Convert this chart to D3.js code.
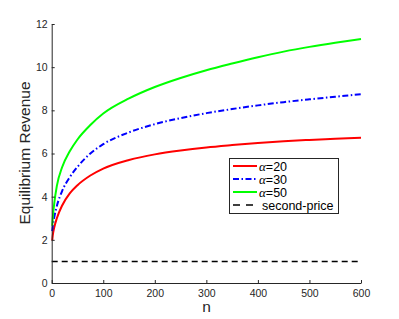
<!DOCTYPE html>
<html><head><meta charset="utf-8">
<script src="https://cdn.jsdelivr.net/npm/d3@7"></script>
<style>body{margin:0;background:#fff}svg{display:block}</style>
</head><body>
<svg id="c" width="399" height="319"></svg>
<script>
const nValues = [1,2,5,10,20,35,50,75,100,150,200,250,300,350,400,450,500,550,600];
const alpha20 = [1.97,2.2,2.58,3.0,3.58,4.15,4.53,4.98,5.3,5.7,5.96,6.14,6.28,6.39,6.49,6.57,6.63,6.68,6.73];
const alpha30 = [2.4,2.62,3.05,3.57,4.25,4.9,5.38,6.0,6.43,6.98,7.36,7.64,7.87,8.06,8.23,8.38,8.51,8.63,8.75];
const alpha50 = [2.65,3.0,3.7,4.5,5.35,6.1,6.65,7.32,7.85,8.55,9.08,9.5,9.86,10.17,10.46,10.72,10.94,11.13,11.3];
const secondPriceN = [0,600];
const secondPrice = [1,1];
const xTicks = [0,100,200,300,400,500,600];
const yTicks = [0,2,4,6,8,10,12];
const seriesNames = ["=20","=30","=50"];

const svg = d3.select("#c");
const x = d3.scaleLinear().domain([0,600]).range([51.7,361]);
const y = d3.scaleLinear().domain([0,12]).range([283,24]);
const axisColor = "#262626";
const font = "'Liberation Sans', Arial, sans-serif";

const series = [
  {vals: alpha20, color:"#ff0000", dash:null},
  {vals: alpha30, color:"#0000ff", dash:"6,2.5,1.5,2.5"},
  {vals: alpha50, color:"#00ff00", dash:null}
];
const line = d3.line().x(d=>x(d[0])).y(d=>y(d[1])).curve(d3.curveMonotoneX);

// second-price
svg.append("path")
  .attr("d", line(secondPriceN.map((n,i)=>[n,secondPrice[i]])))
  .attr("fill","none").attr("stroke","#000").attr("stroke-width",1.5)
  .attr("stroke-dasharray","6,4");

series.forEach(s=>{
  svg.append("path")
    .attr("d", line(nValues.map((n,i)=>[n,s.vals[i]])))
    .attr("fill","none").attr("stroke",s.color).attr("stroke-width",2)
    .attr("stroke-dasharray", s.dash);
});

// axes
const xAxis = svg.append("g").attr("transform","translate(0,283)")
  .call(d3.axisBottom(x).tickValues(xTicks).tickSizeInner(-3).tickSizeOuter(0).tickPadding(6));
const yAxis = svg.append("g").attr("transform","translate(51.7,0)")
  .call(d3.axisLeft(y).tickValues(yTicks).tickSizeInner(-3).tickSizeOuter(0).tickPadding(4));
[xAxis,yAxis].forEach(a=>{
  a.selectAll("path").attr("stroke",axisColor);
  a.selectAll("line").attr("stroke",axisColor);
  a.selectAll("text").attr("fill",axisColor).style("font-family",font).style("font-size","10.5px");
});
xAxis.selectAll("text").attr("y",7);

// labels
svg.append("text").attr("x",206.5).attr("y",312).attr("text-anchor","middle")
  .style("font-family",font).style("font-size","15.5px").attr("fill",axisColor).text("n");
svg.append("text").attr("transform","translate(30,153) rotate(-90)").attr("text-anchor","middle")
  .style("font-family",font).style("font-size","15.5px").attr("fill",axisColor).text("Equilibrium Revenue");

// legend
const lg = svg.append("g");
lg.append("rect").attr("x",229.5).attr("y",158.5).attr("width",109).attr("height",55)
  .attr("fill","#fff").attr("stroke",axisColor).attr("stroke-width",1);
const rowsY = [166,179,192,205];
const legendItems = [
  {color:"#ff0000", dash:null, w:2},
  {color:"#0000ff", dash:"6,2.5,1.5,2.5", w:2},
  {color:"#00ff00", dash:null, w:2},
  {color:"#000", dash:"7,6", w:1.5}
];
legendItems.forEach((it,i)=>{
  lg.append("line").attr("x1",233).attr("x2",257).attr("y1",rowsY[i]).attr("y2",rowsY[i])
    .attr("stroke",it.color).attr("stroke-width",it.w).attr("stroke-dasharray",it.dash);
  const t = lg.append("text").attr("x",259).attr("y",rowsY[i]+4.5)
    .style("font-family",font).style("font-size","12.5px").attr("fill","#000");
  if(i<3){
    t.append("tspan").style("font-family","'Liberation Serif', serif").style("font-style","italic").style("font-size","13px").text("α");
    t.append("tspan").text(seriesNames[i]);
  } else {
    t.attr("x",262).text("second-price");
  }
});
</script>
</body></html>
